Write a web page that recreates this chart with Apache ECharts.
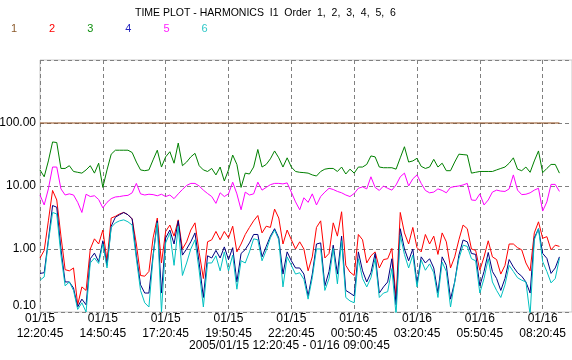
<!DOCTYPE html>
<html>
<head>
<meta charset="utf-8">
<script src="https://cdn.jsdelivr.net/npm/echarts@6/dist/echarts.min.js"></script>
<style>
  html, body { margin: 0; padding: 0; background: #fff; }
  #chart { width: 572px; height: 360px; }
</style>
</head>
<body>
<div id="chart"></div>
<script>
// samples every 10 minutes from 2005/01/15 12:20:45
const sampleMinutes = Array.from({ length: 125 }, (_, i) => i * 10);

const tickLabels = [
  '01/15\n12:20:45', '01/15\n14:50:45', '01/15\n17:20:45', '01/15\n19:50:45',
  '01/15\n22:20:45', '01/16\n00:50:45', '01/16\n03:20:45', '01/16\n05:50:45',
  '01/16\n08:20:45'
];

const order1 = [
  100,100,100,100,100,100,100,100,100,100,100,100,100,100,100,100,100,100,100,100,100,100,100,100,100,
  100,100,100,100,100,100,100,100,100,100,100,100,100,100,100,100,100,100,100,100,100,100,100,100,100,
  100,100,100,100,100,100,100,100,100,100,100,100,100,100,100,100,100,100,100,100,100,100,100,100,100,
  100,100,100,100,100,100,100,100,100,100,100,100,100,100,100,100,100,100,100,100,100,100,100,100,100,
  100,100,100,100,100,100,100,100,100,100,100,100,100,100,100,100,100,100,100,100,100,100,100,100,100
];

const order2 = [
  0.72,0.95,2.8,8.5,6,1.6,0.47,0.45,0.5,0.13,0.25,0.22,1.0,1.45,1.2,2,0.65,3.1,3.3,3.6,3.8,3.5,3.0,1.2,0.38,
  0.37,0.44,1.5,3.1,0.6,1.9,2.4,1.6,2.9,1.0,1.3,2.0,2.6,0.88,0.34,1.3,1.4,1.9,1.4,1.9,1.5,2.3,0.9,1.2,1.7,
  2.2,2.8,3.4,1.8,2.3,2.2,4.3,3.1,1.2,2.0,1.4,1.0,1.3,1.0,0.45,0.75,2.2,2.8,0.72,0.85,2.6,1.6,3.9,0.55,0.43,
  0.38,1.7,1.4,0.6,0.78,0.9,0.5,0.68,0.7,1.02,0.16,3.8,1.8,1.2,2.2,1.05,0.9,1.7,1.2,1.6,0.82,1.8,1.3,0.5,0.75,
  1.4,2.4,2.1,1.0,0.95,0.46,0.75,1.35,0.75,0.68,0.4,0.55,1.2,1.2,1.05,0.97,0.6,0.45,1.8,2.7,1.48,1.57,0.97,1.15,1.1
];

const order3 = [
  18,14,25,50,49,19,19,21,17,16.5,16,18,21,16,23,9.5,18,32,37,37,37,37,34,24,18,
  17.5,18,26,37,20,29,35,23,48,21,24,29,33,21,18,17,19,15,20,12,18,31,22,9.5,16,
  15.5,20,38,20,22,27,36,28,20,28,20,17,16.5,16.3,16,15,14.4,17,18.5,19,19,17,20,15.5,18.5,
  16,20,20,22,30,29,20,19.5,19.5,19.5,18.5,28,42,24,25,27.5,20.5,19,20,26.5,20,23,17.5,17.5,24,
  32,31.5,31,16,16.5,17,17,17,17,18,19,20,23,28,18.5,17.5,20,16.5,25,36,16.3,19,22,22,16
];

const order4 = [
  0.41,0.42,1.4,4.9,4.6,1.0,0.3,0.3,0.24,0.12,0.16,0.13,0.7,0.86,0.63,1.35,0.55,2.3,3.2,3.5,3.8,3.5,3.0,0.8,0.27,
  0.2,0.2,0.8,2.8,0.2,1.5,2.0,1.2,2.8,0.8,1.0,1.3,1.8,0.6,0.17,0.78,0.72,0.95,0.72,1.08,0.68,1.05,0.3,0.85,0.98,
  1.25,1.7,1.7,0.75,1.1,1.6,2.1,1.5,0.4,0.9,0.65,0.5,0.5,0.4,0.18,0.4,1.2,1.25,0.26,0.44,1.15,0.4,1.6,0.22,0.2,
  0.18,0.9,0.45,0.3,0.42,0.85,0.2,0.25,0.3,0.7,0.13,2.1,1.0,0.65,1.0,0.28,0.75,0.6,0.7,0.5,0.2,0.75,0.55,0.16,0.3,
  0.8,1.39,1.3,0.85,0.82,0.26,0.44,0.88,0.44,0.34,0.22,0.34,0.68,0.52,0.42,0.37,0.3,0.2,1.5,2.1,0.85,0.71,0.41,0.5,0.75
];

const order5 = [
  7.2,5,9,20,20,9,7.2,7.5,7.2,5.5,3.8,7.4,6.8,7,6.1,4.5,5.5,6.3,6.7,6.8,7,7.1,7.8,11,7.5,
  7.2,7.4,7.3,7,7.4,6.8,7.2,6.3,7.5,8.8,10.2,11,11,10,8.6,7.6,6.8,5.3,7.8,6.8,7.5,11.5,7.5,4.2,8,
  7.2,7.5,11.5,8.6,9.5,10.5,11,11,10.8,11.2,8,5.6,4.2,6.5,5.5,7.5,5,6.8,8,9.2,8.8,8.2,7.8,7.2,6.8,
  7.6,9.2,9.7,9,14,9.5,8.5,10,9.2,8.6,10.4,14,16,10,13,15,11,8.5,7.8,8,9,8.5,7.8,9.5,9.8,
  10,10.4,11,6,5.9,7.5,5,6,8,8.6,8.3,8.2,9,15,8.6,7.3,7.4,7.8,8.6,9.2,4,5.6,10.6,10.6,8.2
];

const order6 = [
  0.32,0.36,1.3,3.8,3.6,0.8,0.26,0.3,0.22,0.11,0.14,0.1,0.6,0.72,0.59,1.2,0.5,2.2,2.6,2.8,2.9,2.7,2.4,0.7,0.22,
  0.14,0.12,0.75,2.6,0.1,1.25,1.8,0.55,2.3,0.38,0.6,1.0,1.4,0.45,0.12,0.6,0.6,0.78,0.45,0.9,0.45,0.8,0.23,0.65,0.6,
  0.9,1.45,1.4,0.65,0.95,1.5,2.0,1.4,0.25,0.75,0.55,0.4,0.42,0.33,0.16,0.35,1.0,1.0,0.22,0.34,1.02,0.28,1.35,0.17,0.15,
  0.14,0.7,0.34,0.25,0.35,0.7,0.17,0.2,0.21,0.49,0.09,1.67,0.82,0.5,0.8,0.25,0.67,0.46,0.58,0.42,0.17,0.62,0.44,0.12,0.3,
  0.7,1.15,1.1,0.7,0.65,0.2,0.34,0.7,0.3,0.22,0.17,0.27,0.55,0.44,0.35,0.32,0.3,0.09,1.4,2.1,0.63,0.44,0.29,0.34,0.71
];

const seriesDefs = [
  { name: '1', color: '#8b4513', label: '#8b5a2b', values: order1 },
  { name: '2', color: '#ff0000', label: '#ff0000', values: order2 },
  { name: '3', color: '#008000', label: '#109010', values: order3 },
  { name: '4', color: '#000080', label: '#2828c0', values: order4 },
  { name: '5', color: '#ff00ff', label: '#ff20ff', values: order5 },
  { name: '6', color: '#00c0c0', label: '#30c8c8', values: order6 },
];

const FONT = "'Liberation Sans', Arial, sans-serif";
const chart = echarts.init(document.getElementById('chart'));

chart.setOption({
  animation: false,
  backgroundColor: '#fff',
  textStyle: { fontFamily: FONT },
  title: [
    {
      text: 'TIME PLOT - HARMONICS  I1  Order  1,  2,  3,  4,  5,  6',
      left: 135,
      top: 8,
      padding: 0,
      textStyle: { fontSize: 10.5, fontWeight: 'normal', color: '#000', fontFamily: FONT },
    },
    {
      text: '2005/01/15 12:20:45 - 01/16 09:00:45',
      left: 189,
      top: 340,
      padding: 0,
      textStyle: { fontSize: 12, fontWeight: 'normal', color: '#000', fontFamily: FONT },
    },
  ],
  legend: {
    left: 6,
    top: 23,
    padding: 0,
    itemWidth: 0,
    itemHeight: 0,
    itemGap: 27,
    selectedMode: false,
    data: seriesDefs.map(s => ({ name: s.name, icon: 'none', textStyle: { color: s.label } })),
    textStyle: { fontSize: 11, fontFamily: FONT },
  },
  grid: {
    left: 40,
    right: 0,
    top: 60,
    bottom: 48,
    outerBoundsMode: 'none',
    containLabel: false,
    show: true,
    borderColor: '#c8c8c8',
    borderWidth: 1,
  },
  xAxis: {
    type: 'value',
    min: 0,
    max: 1270,
    interval: 150,
    axisLine: { show: false },
    axisTick: { show: false },
    splitLine: { show: true, lineStyle: { color: '#808080', type: [4, 3], width: 1 } },
    axisLabel: {
      margin: -1,
      fontSize: 12,
      lineHeight: 15,
      color: '#000',
      fontFamily: FONT,
      formatter: v => (v % 150 === 0 ? tickLabels[v / 150] || '' : ''),
    },
  },
  yAxis: {
    type: 'log',
    min: 0.1,
    max: 1000,
    logBase: 10,
    axisLine: { show: false },
    axisTick: { show: false },
    splitLine: { show: true, lineStyle: { color: '#808080', type: [4, 3], width: 1 } },
    axisLabel: {
      margin: 4,
      fontSize: 12,
      color: '#000',
      fontFamily: FONT,
      formatter: v => {
        if (v >= 999) return '';
        if (v < 0.2) return '{low|' + v.toFixed(2) + '}';
        return v.toFixed(2);
      },
      rich: { low: { fontSize: 12, color: '#000', padding: [0, 0, 12, 0], fontFamily: FONT } },
    },
  },
  series: seriesDefs.map(s => ({
    name: s.name,
    type: 'line',
    showSymbol: false,
    symbol: 'none',
    clip: true,
    lineStyle: { color: s.color, width: 1 },
    itemStyle: { color: s.color },
    data: sampleMinutes.map((m, i) => [m, s.values[i]]),
  })),
});
</script>
</body>
</html>
